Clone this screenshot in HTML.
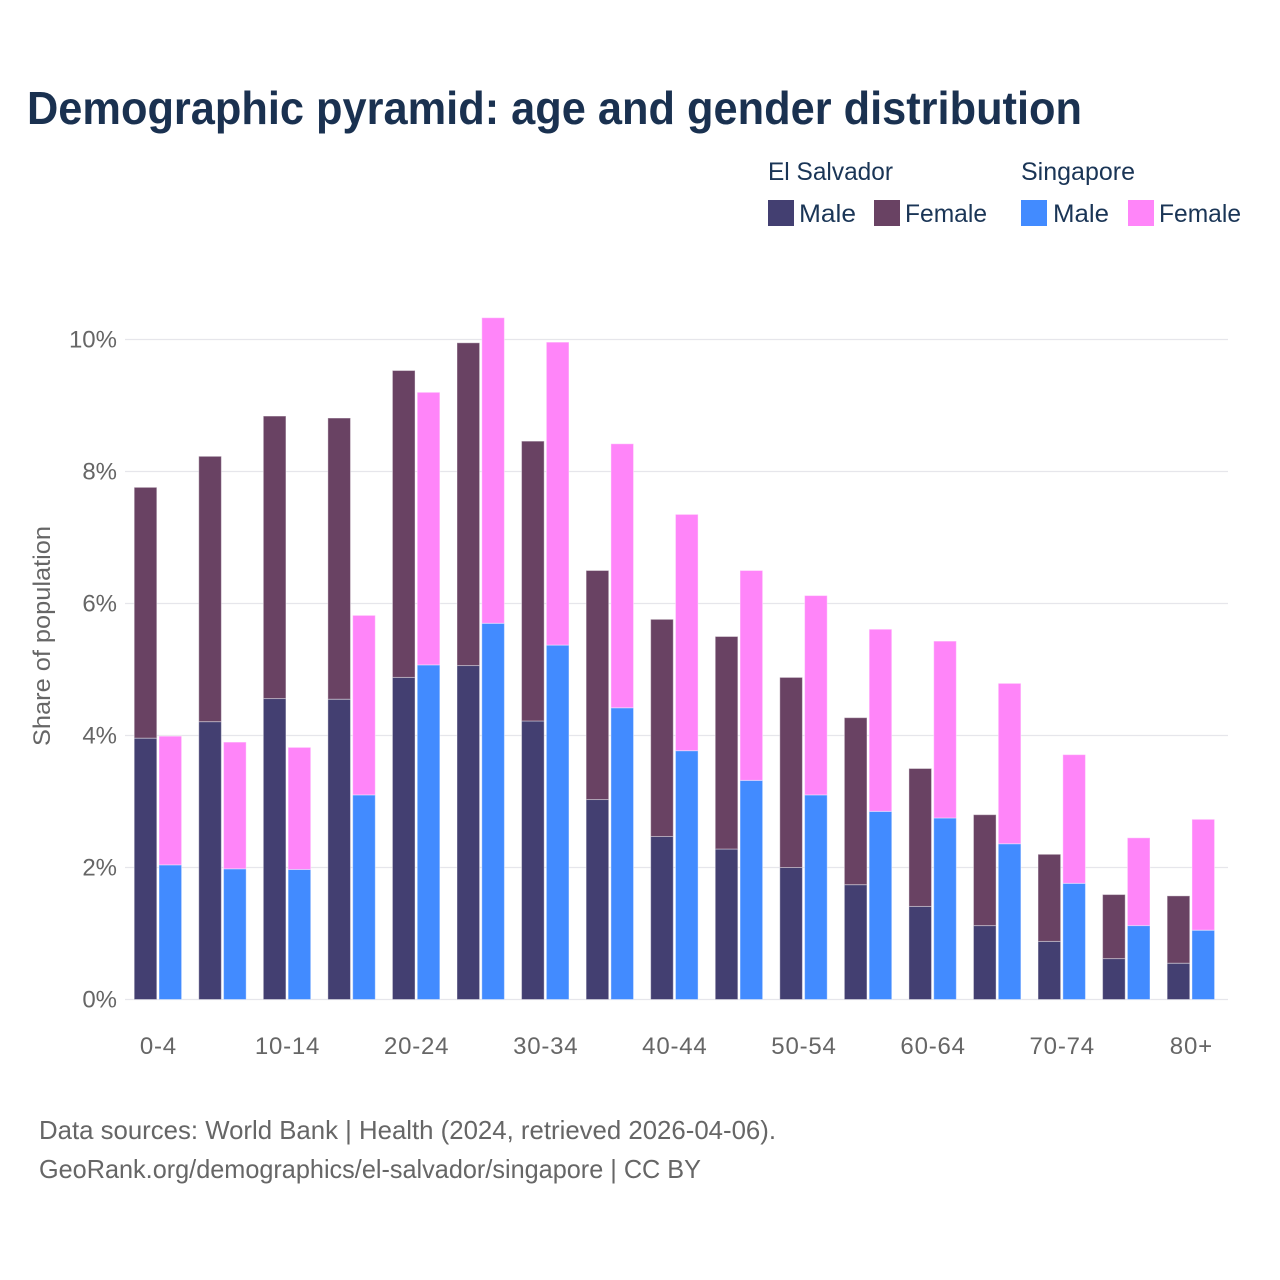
<!DOCTYPE html>
<html lang="en">
<head>
<meta charset="utf-8">
<title>Demographic pyramid</title>
<style>
html,body{margin:0;padding:0;background:#fff;}
svg{display:block;font-family:"Liberation Sans",sans-serif;}
</style>
</head>
<body>
<svg id="chart" xmlns="http://www.w3.org/2000/svg" width="1280" height="1280" viewBox="0 0 1280 1280">
  <rect x="0" y="0" width="1280" height="1280" fill="#ffffff"/>
  <text x="27" y="124" font-size="46" font-weight="700" fill="#1a3150" textLength="1055" lengthAdjust="spacingAndGlyphs">Demographic pyramid: age and gender distribution</text>
  <g font-size="25" fill="#1a3556">
    <text x="768" y="180" textLength="125" lengthAdjust="spacingAndGlyphs">El Salvador</text>
    <text x="1021" y="180" textLength="114" lengthAdjust="spacingAndGlyphs">Singapore</text>
    <rect x="768" y="200" width="26" height="26" fill="#433f71"/>
    <text x="799" y="222" textLength="57" lengthAdjust="spacingAndGlyphs">Male</text>
    <rect x="874" y="200" width="26" height="26" fill="#694263"/>
    <text x="905" y="222" textLength="82" lengthAdjust="spacingAndGlyphs">Female</text>
    <rect x="1021" y="200" width="26" height="26" fill="#428bff"/>
    <text x="1053" y="222" textLength="56" lengthAdjust="spacingAndGlyphs">Male</text>
    <rect x="1128" y="200" width="26" height="26" fill="#ff85f9"/>
    <text x="1159" y="222" textLength="82" lengthAdjust="spacingAndGlyphs">Female</text>
  </g>
  <g id="grid"></g>
  <g id="bars"></g>
  <g id="yticks" font-size="24" fill="#666666" text-anchor="end"></g>
  <g id="xticks" font-size="24" fill="#666666" text-anchor="middle" letter-spacing="0.8"></g>
  <text transform="translate(50,746) rotate(-90)" font-size="24" fill="#666666" textLength="220" lengthAdjust="spacingAndGlyphs">Share of population</text>
  <g font-size="26" fill="#666666">
    <text x="39" y="1139" textLength="737" lengthAdjust="spacingAndGlyphs">Data sources: World Bank | Health (2024, retrieved 2026-04-06).</text>
    <text x="39" y="1178" textLength="662" lengthAdjust="spacingAndGlyphs">GeoRank.org/demographics/el-salvador/singapore | CC BY</text>
  </g>
</svg>
<script>
const categories = ["0-4","5-9","10-14","15-19","20-24","25-29","30-34","35-39","40-44","45-49","50-54","55-59","60-64","65-69","70-74","75-79","80+"];
const elSalvadorMale = [3.96,4.21,4.56,4.55,4.88,5.06,4.22,3.03,2.47,2.28,2.00,1.74,1.41,1.12,0.88,0.62,0.55];
const elSalvadorFemale = [3.80,4.02,4.28,4.26,4.65,4.89,4.24,3.47,3.29,3.22,2.88,2.53,2.09,1.68,1.32,0.97,1.02];
const singaporeMale = [2.04,1.98,1.97,3.10,5.07,5.70,5.37,4.42,3.77,3.32,3.10,2.85,2.75,2.36,1.76,1.12,1.05];
const singaporeFemale = [1.95,1.92,1.85,2.72,4.13,4.63,4.59,4.00,3.58,3.18,3.02,2.76,2.68,2.43,1.95,1.33,1.68];
const yTickValues = [0,2,4,6,8,10];

const NS = "http://www.w3.org/2000/svg";
function yScale(v){ return 999.5 - v * 66; }
function xCenter(i){ return 158 + i * 64.56; }

function makeRect(parent, x, y0, y1, fill){
  const r = document.createElementNS(NS, "rect");
  r.setAttribute("x", x);
  r.setAttribute("y", y1);
  r.setAttribute("width", 22.6);
  r.setAttribute("height", Math.max(0, y0 - y1));
  r.setAttribute("fill", fill);
  r.setAttribute("stroke", "#ffffff");
  r.setAttribute("stroke-opacity", "0.4");
  r.setAttribute("stroke-width", "1");
  parent.appendChild(r);
  return r;
}

const gridG = document.getElementById("grid");
const yG = document.getElementById("yticks");
yTickValues.forEach(function(v){
  const l = document.createElementNS(NS, "line");
  
  
  l.setAttribute("x1", 125);
  l.setAttribute("x2", 1228);
  l.setAttribute("y1", yScale(v));
  l.setAttribute("y2", yScale(v));
  l.setAttribute("stroke", "#e6e6eb");
  l.setAttribute("stroke-width", "1.2");
  gridG.appendChild(l);
  const t = document.createElementNS(NS, "text");
  
  
  t.setAttribute("x", 117);
  t.setAttribute("y", yScale(v) + 8);
  t.textContent = v + "%";
  yG.appendChild(t);
});

const barsG = document.getElementById("bars");
const xG = document.getElementById("xticks");
categories.forEach(function(c, i){
  const cx = xCenter(i);
  const esX = cx - 23.8;
  const sgX = cx + 1;
  const esM = makeRect(barsG, esX, yScale(0), yScale(elSalvadorMale[i]), "#433f71");
  
  
  const esF = makeRect(barsG, esX, yScale(elSalvadorMale[i]), yScale(elSalvadorMale[i] + elSalvadorFemale[i]), "#694263");
  
  
  const sgM = makeRect(barsG, sgX, yScale(0), yScale(singaporeMale[i]), "#428bff");
  
  
  const sgF = makeRect(barsG, sgX, yScale(singaporeMale[i]), yScale(singaporeMale[i] + singaporeFemale[i]), "#ff85f9");
  
  
  if (i % 2 === 0) {
    const t = document.createElementNS(NS, "text");
    
    
    t.setAttribute("x", cx + 0.4);
    t.setAttribute("y", 1054);
    t.textContent = c;
    xG.appendChild(t);
  }
});
</script>
</body>
</html>
